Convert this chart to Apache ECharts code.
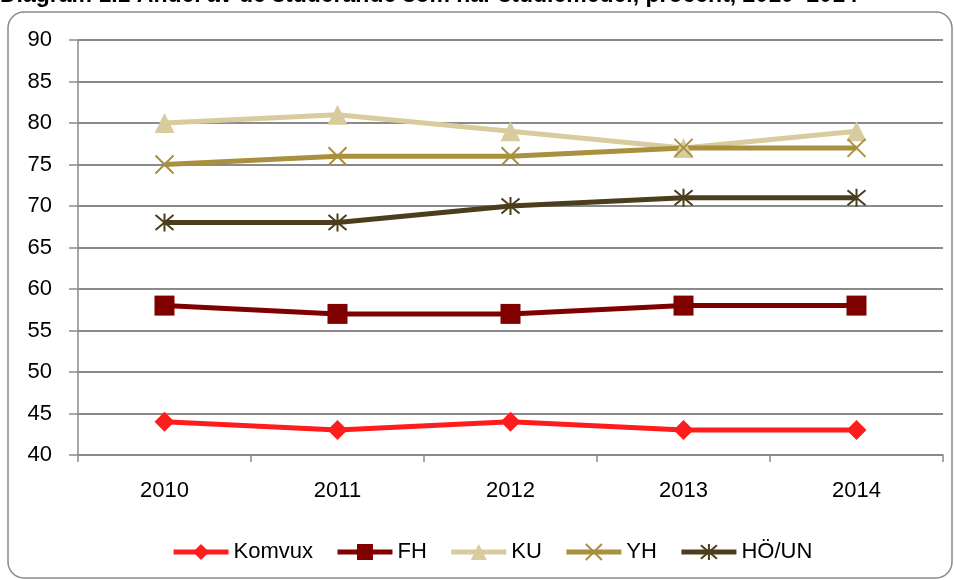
<!DOCTYPE html>
<html>
<head>
<meta charset="utf-8">
<script src="https://cdn.jsdelivr.net/npm/echarts@6/dist/echarts.min.js"></script>
<style>
  html, body { margin: 0; padding: 0; background: #fff; }
  #chart { width: 954px; height: 580px; }
</style>
</head>
<body>
<div id="chart"></div>
<script>
// data
let years = ['2010', '2011', '2012', '2013', '2014'];
let komvux = [44, 43, 44, 43, 43];
let fh = [58, 57, 57, 58, 58];
let ku = [80, 81, 79, 77, 79];
let yh = [75, 76, 76, 77, 77];
let hoUn = [68, 68, 70, 71, 71];
let titleText = 'Diagram 1.1 Andel av de studerande som har studiemedel, procent, 2010\u20132014';

let font = 'Liberation Sans, Arial, sans-serif';
let crossPath = 'path://M0,0L10,10M10,0L0,10';
let starPath = 'path://M0,0L10,10M10,0L0,10M5,-1L5,11';

function lineSeries(name, data, color, symbol, stroke) {
    let s = {
        name: name,
        type: 'line',
        data: data,
        symbol: symbol,
        symbolSize: 20,
        showAllSymbol: true,
        lineStyle: { color: color, width: 5 },
        itemStyle: { color: color },
        emphasis: { disabled: true }
    };
    if (stroke) {
        s.symbolSize = 18;
        s.itemStyle = { color: 'none', borderColor: color, borderWidth: 2 };
    }
    return s;
}

let myChart = echarts.init(document.getElementById('chart'), null, { renderer: 'canvas' });
let option = {
    animation: false,
    backgroundColor: '#fff',
    textStyle: { fontFamily: font },
    graphic: [
        {
            type: 'rect',
            shape: { x: 8, y: 12, width: 944, height: 566, r: 16 },
            style: { fill: 'none', stroke: '#8a8a8a', lineWidth: 1.5 },
            z: -1
        },
        {
            type: 'text',
            left: 0,
            top: -16,
            style: {
                text: titleText,
                font: 'bold 23px ' + font,
                fill: '#000'
            }
        }
    ],
    grid: { left: 78, right: 11, top: 40, bottom: 125 },
    legend: {
        left: 166,
        top: 536,
        itemWidth: 55,
        itemHeight: 20,
        itemGap: 22,
        lineStyle: { width: 5 },
        textStyle: { fontSize: 22, color: '#000', fontFamily: font },
        data: ['Komvux', 'FH', 'KU', 'YH', 'HÖ/UN']
    },
    xAxis: {
        type: 'category',
        data: years,
        boundaryGap: true,
        axisLine: { lineStyle: { color: '#8a8a8a', width: 1.5 } },
        axisTick: { show: true, length: 7, lineStyle: { color: '#8a8a8a', width: 1.5 } },
        axisLabel: { color: '#000', fontSize: 22, margin: 25 }
    },
    yAxis: {
        type: 'value',
        min: 40,
        max: 90,
        interval: 5,
        axisLine: { show: true, lineStyle: { color: '#8a8a8a', width: 1.5 } },
        axisTick: { show: true, length: 9, lineStyle: { color: '#8a8a8a', width: 1.5 } },
        axisLabel: { color: '#000', fontSize: 22, margin: 26 },
        splitLine: { lineStyle: { color: '#8a8a8a', width: 2 } }
    },
    series: [
        lineSeries('Komvux', komvux, '#ff1c1c', 'diamond'),
        lineSeries('FH', fh, '#800000', 'rect'),
        lineSeries('KU', ku, '#d8cb9e', 'triangle'),
        lineSeries('YH', yh, '#a8903f', crossPath, true),
        lineSeries('HÖ/UN', hoUn, '#4a3e1d', starPath, true)
    ]
};
myChart.setOption(option);
</script>
</body>
</html>
